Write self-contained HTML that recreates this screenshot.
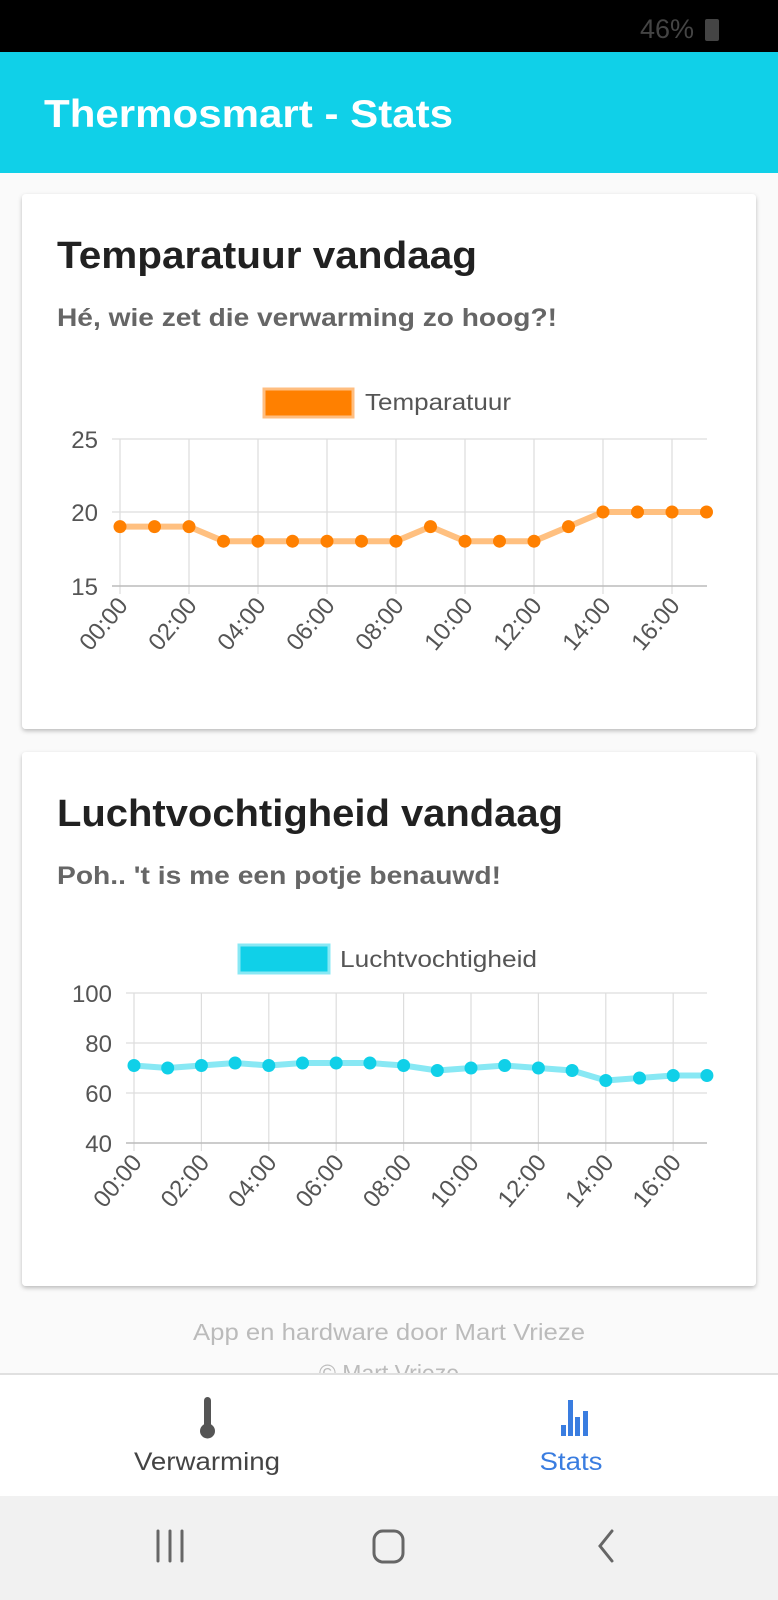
<!DOCTYPE html>
<html><head><meta charset="utf-8"><style>
body{margin:0;width:778px;height:1600px;overflow:hidden;background:#fafafa;font-family:"Liberation Sans",sans-serif}
svg{display:block}
</style></head><body>
<svg width="778" height="1600" viewBox="0 0 778 1600" xmlns="http://www.w3.org/2000/svg" font-family="Liberation Sans, sans-serif">
<defs><filter id="sh" x="-5%" y="-5%" width="110%" height="110%"><feDropShadow dx="0" dy="2" stdDeviation="2" flood-color="#000" flood-opacity="0.25"/></filter></defs>
<rect width="778" height="1600" fill="#fafafa"/>
<rect width="778" height="52" fill="#000"/>
<text x="640" y="38" font-size="27" fill="#444">46%</text>
<rect x="705" y="19" width="14" height="22" rx="2" fill="#444"/>
<rect x="0" y="52" width="778" height="121" fill="#10d0e8"/>
<text x="44" y="127" font-size="39" fill="#fff" font-weight="bold" textLength="409" lengthAdjust="spacingAndGlyphs">Thermosmart - Stats</text>

<rect x="22" y="194" width="734" height="535" rx="4" fill="#fff" filter="url(#sh)"/>
<text x="57" y="268" font-size="38" fill="#212121" font-weight="bold" textLength="420" lengthAdjust="spacingAndGlyphs">Temparatuur vandaag</text>
<text x="57" y="326" font-size="25" fill="#666" font-weight="bold" textLength="500" lengthAdjust="spacingAndGlyphs">Hé, wie zet die verwarming zo hoog?!</text>
<rect x="264" y="389" width="89" height="28" fill="#ff8000" stroke="#ffbe80" stroke-width="3"/>
<text x="365" y="410" font-size="23" fill="#555" textLength="146" lengthAdjust="spacingAndGlyphs">Temparatuur</text>
<g stroke="#ddd" stroke-width="1.2">
<line x1="112" y1="439" x2="707" y2="439"/><line x1="112" y1="512" x2="707" y2="512"/>
<line x1="120" y1="439" x2="120" y2="594"/><line x1="189" y1="439" x2="189" y2="594"/><line x1="258" y1="439" x2="258" y2="594"/><line x1="327" y1="439" x2="327" y2="594"/><line x1="396" y1="439" x2="396" y2="594"/><line x1="465" y1="439" x2="465" y2="594"/><line x1="534" y1="439" x2="534" y2="594"/><line x1="603" y1="439" x2="603" y2="594"/><line x1="672" y1="439" x2="672" y2="594"/>
</g>
<line x1="112" y1="586" x2="707" y2="586" stroke="#bbb" stroke-width="1.5"/>
<g font-size="24" fill="#555" text-anchor="end"><text x="98" y="448">25</text><text x="98" y="521">20</text><text x="98" y="595">15</text></g>
<polyline fill="none" stroke="#ffc080" stroke-width="6" stroke-linejoin="round" points="120,526.6 154.5,526.6 189,526.6 223.5,541.2 258,541.2 292.5,541.2 327,541.2 361.5,541.2 396,541.2 430.5,526.6 465,541.2 499.5,541.2 534,541.2 568.5,526.6 603,512 637.5,512 672,512 706.5,512"/>
<g fill="#ff8000"><circle cx="120" cy="526.6" r="6.5"/><circle cx="154.5" cy="526.6" r="6.5"/><circle cx="189" cy="526.6" r="6.5"/><circle cx="223.5" cy="541.2" r="6.5"/><circle cx="258" cy="541.2" r="6.5"/><circle cx="292.5" cy="541.2" r="6.5"/><circle cx="327" cy="541.2" r="6.5"/><circle cx="361.5" cy="541.2" r="6.5"/><circle cx="396" cy="541.2" r="6.5"/><circle cx="430.5" cy="526.6" r="6.5"/><circle cx="465" cy="541.2" r="6.5"/><circle cx="499.5" cy="541.2" r="6.5"/><circle cx="534" cy="541.2" r="6.5"/><circle cx="568.5" cy="526.6" r="6.5"/><circle cx="603" cy="512" r="6.5"/><circle cx="637.5" cy="512" r="6.5"/><circle cx="672" cy="512" r="6.5"/><circle cx="706.5" cy="512" r="6.5"/></g>
<g font-size="24" fill="#555" text-anchor="end">
<text transform="translate(129,606) rotate(-50)">00:00</text><text transform="translate(198,606) rotate(-50)">02:00</text><text transform="translate(267,606) rotate(-50)">04:00</text><text transform="translate(336,606) rotate(-50)">06:00</text><text transform="translate(405,606) rotate(-50)">08:00</text><text transform="translate(474,606) rotate(-50)">10:00</text><text transform="translate(543,606) rotate(-50)">12:00</text><text transform="translate(612,606) rotate(-50)">14:00</text><text transform="translate(681,606) rotate(-50)">16:00</text>
</g>

<rect x="22" y="752" width="734" height="534" rx="4" fill="#fff" filter="url(#sh)"/>
<text x="57" y="826" font-size="38" fill="#212121" font-weight="bold" textLength="506" lengthAdjust="spacingAndGlyphs">Luchtvochtigheid vandaag</text>
<text x="57" y="884" font-size="25" fill="#666" font-weight="bold" textLength="444" lengthAdjust="spacingAndGlyphs">Poh.. 't is me een potje benauwd!</text>
<rect x="239" y="945" width="90" height="28" fill="#10d0e8" stroke="#88e8f4" stroke-width="3"/>
<text x="340" y="967" font-size="23" fill="#555" textLength="197" lengthAdjust="spacingAndGlyphs">Luchtvochtigheid</text>
<g stroke="#ddd" stroke-width="1.2">
<line x1="126" y1="993" x2="707" y2="993"/><line x1="126" y1="1043" x2="707" y2="1043"/><line x1="126" y1="1093" x2="707" y2="1093"/>
<line x1="134" y1="993" x2="134" y2="1151"/><line x1="201.4" y1="993" x2="201.4" y2="1151"/><line x1="268.8" y1="993" x2="268.8" y2="1151"/><line x1="336.2" y1="993" x2="336.2" y2="1151"/><line x1="403.6" y1="993" x2="403.6" y2="1151"/><line x1="471" y1="993" x2="471" y2="1151"/><line x1="538.4" y1="993" x2="538.4" y2="1151"/><line x1="605.8" y1="993" x2="605.8" y2="1151"/><line x1="673.2" y1="993" x2="673.2" y2="1151"/>
</g>
<line x1="126" y1="1143" x2="707" y2="1143" stroke="#bbb" stroke-width="1.5"/>
<g font-size="24" fill="#555" text-anchor="end"><text x="112" y="1002">100</text><text x="112" y="1052">80</text><text x="112" y="1102">60</text><text x="112" y="1152">40</text></g>
<polyline fill="none" stroke="#88e8f4" stroke-width="6" stroke-linejoin="round" points="134,1065.5 167.7,1068 201.4,1065.5 235.1,1063 268.8,1065.5 302.5,1063 336.2,1063 369.9,1063 403.6,1065.5 437.3,1070.5 471,1068 504.7,1065.5 538.4,1068 572.1,1070.5 605.8,1080.5 639.5,1078 673.2,1075.5 706.9,1075.5"/>
<g fill="#10d0e8"><circle cx="134" cy="1065.5" r="6.5"/><circle cx="167.7" cy="1068" r="6.5"/><circle cx="201.4" cy="1065.5" r="6.5"/><circle cx="235.1" cy="1063" r="6.5"/><circle cx="268.8" cy="1065.5" r="6.5"/><circle cx="302.5" cy="1063" r="6.5"/><circle cx="336.2" cy="1063" r="6.5"/><circle cx="369.9" cy="1063" r="6.5"/><circle cx="403.6" cy="1065.5" r="6.5"/><circle cx="437.3" cy="1070.5" r="6.5"/><circle cx="471" cy="1068" r="6.5"/><circle cx="504.7" cy="1065.5" r="6.5"/><circle cx="538.4" cy="1068" r="6.5"/><circle cx="572.1" cy="1070.5" r="6.5"/><circle cx="605.8" cy="1080.5" r="6.5"/><circle cx="639.5" cy="1078" r="6.5"/><circle cx="673.2" cy="1075.5" r="6.5"/><circle cx="706.9" cy="1075.5" r="6.5"/></g>
<g font-size="24" fill="#555" text-anchor="end">
<text transform="translate(143,1163) rotate(-50)">00:00</text><text transform="translate(210.4,1163) rotate(-50)">02:00</text><text transform="translate(277.8,1163) rotate(-50)">04:00</text><text transform="translate(345.2,1163) rotate(-50)">06:00</text><text transform="translate(412.6,1163) rotate(-50)">08:00</text><text transform="translate(480,1163) rotate(-50)">10:00</text><text transform="translate(547.4,1163) rotate(-50)">12:00</text><text transform="translate(614.8,1163) rotate(-50)">14:00</text><text transform="translate(682.2,1163) rotate(-50)">16:00</text>
</g>

<text x="389" y="1340" font-size="23" fill="#bbb" text-anchor="middle" textLength="392" lengthAdjust="spacingAndGlyphs">App en hardware door Mart Vrieze</text>
<text x="389" y="1381" font-size="23" fill="#bbb" text-anchor="middle">© Mart Vrieze</text>
<rect x="0" y="1374" width="778" height="123" fill="#fff"/>
<line x1="0" y1="1374" x2="778" y2="1374" stroke="#e0e0e0" stroke-width="2"/>
<rect x="204" y="1397" width="7" height="32" rx="3.5" fill="#555"/>
<circle cx="207.5" cy="1431" r="7.5" fill="#555"/>
<text x="207" y="1470" font-size="25" fill="#444" text-anchor="middle" textLength="146" lengthAdjust="spacingAndGlyphs">Verwarming</text>
<g fill="#3a7de0"><rect x="561" y="1425" width="5" height="11"/><rect x="568" y="1400" width="5" height="36"/><rect x="575" y="1417" width="5" height="19"/><rect x="583" y="1411" width="5" height="25"/></g>
<text x="571" y="1470" font-size="25" fill="#3a7de0" text-anchor="middle" textLength="63" lengthAdjust="spacingAndGlyphs">Stats</text>
<rect x="0" y="1496" width="778" height="104" fill="#f1f1f1"/>
<g stroke="#666" stroke-width="3" fill="none" stroke-linecap="round">
<line x1="158" y1="1531" x2="158" y2="1561"/><line x1="170" y1="1531" x2="170" y2="1561"/><line x1="182" y1="1531" x2="182" y2="1561"/>
<rect x="374" y="1531" width="29" height="31" rx="9"/>
<polyline points="612,1531 600,1546 612,1561"/>
</g>
</svg>
</body></html>
